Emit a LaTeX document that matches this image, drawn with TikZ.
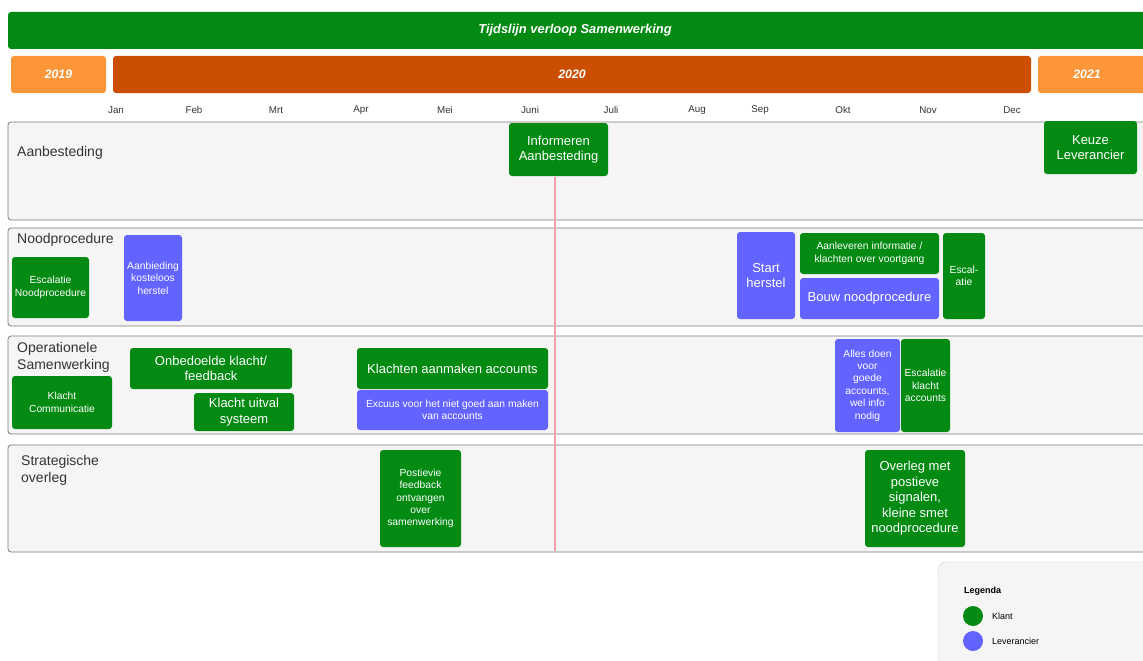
\documentclass[tikz,border=0pt]{standalone}
\usepackage{fontspec}
\setmainfont{Liberation Sans}
\definecolor{klantgroen}{HTML}{038A12}
\definecolor{levpaars}{HTML}{6363FF}
\definecolor{jaarlicht}{HTML}{FD9638}
\definecolor{jaardonker}{HTML}{CC4E02}
\definecolor{baanvul}{HTML}{F5F5F5}
\definecolor{baanrand}{HTML}{7A7A7A}
\definecolor{lijnrood}{HTML}{F0A0A8}
\definecolor{labeltekst}{HTML}{333333}

\begin{document}
\begin{tikzpicture}[x=1pt, y=-1pt,
	blok/.style={rounded corners=3pt, text=white, align=center, inner sep=0pt},
	klant/.style={blok, fill=klantgroen},
	lev/.style={blok, fill=levpaars},
	groot/.style={font=\fontsize{13}{15.5}\selectfont},
	klein/.style={font=\fontsize{10.3}{12.4}\selectfont},
	baan/.style={draw=baanrand, fill=baanvul, rounded corners=3pt, line width=0.8pt},
	baanlabel/.style={anchor=west, align=left, text=labeltekst, inner sep=0pt, font=\fontsize{14}{17}\selectfont},
	maand/.style={text=labeltekst, font=\fontsize{9.8}{11}\selectfont},
	jaar/.style={rounded corners=3pt, draw=none, text=white, font=\fontsize{12.3}{14}\bfseries\itshape\selectfont}]
			\useasboundingbox (0,0) rectangle (1143,661);
			
			% kop en jaren
			\draw[fill=klantgroen, draw=none, rounded corners=3pt] (8,12) rectangle (1160,49);
			\node[text=white, font=\fontsize{12.9}{14}\bfseries\itshape\selectfont] (titel) at (575,30) {Tijdslijn verloop Samenwerking};
			\draw[jaar, fill=jaarlicht] (11,56) rectangle (106,93) node[pos=.5] (j2019) {2019};
			\draw[jaar, fill=jaardonker] (113,56) rectangle (1031,93) node[pos=.5] (j2020) {2020};
			\draw[jaar, fill=jaarlicht] (1038,56) rectangle (1160,93);
			\node[text=white, font=\fontsize{12.3}{14}\bfseries\itshape\selectfont] (j2021) at (1087,74.5) {2021};
			
			% maanden
			\node[maand] (jan) at (116,110) {Jan};
			\node[maand] (feb) at (194,110) {Feb};
			\node[maand] (mrt) at (276,110) {Mrt};
			\node[maand] (apr) at (361,110) {Apr};
			\node[maand] (mei) at (445,110) {Mei};
			\node[maand] (jun) at (530,110) {Juni};
			\node[maand] (jul) at (611,110) {Juli};
			\node[maand] (aug) at (697,110) {Aug};
			\node[maand] (sep) at (760,110) {Sep};
			\node[maand] (okt) at (843,110) {Okt};
			\node[maand] (nov) at (928,110) {Nov};
			\node[maand] (dec) at (1012,110) {Dec};
			
			% banen
			\draw[baan] (8,122) rectangle (1160,220);
			\draw[baan] (8,228) rectangle (1160,326);
			\draw[baan] (8,336) rectangle (1160,434);
			\draw[baan] (8,445) rectangle (1160,552);
			\node[baanlabel] (aanbest) at (17,153) {Aanbesteding};
			\node[baanlabel] (nood) at (17,240) {Noodprocedure};
			\node[baanlabel] (operat) at (17,357) {Operationele\\Samenwerking};
			\node[baanlabel] (strat) at (21,470) {Strategische\\overleg};
			
			% nu-lijn
			\coordinate (nuboven) at (555,177);
			\coordinate (nuonder) at (555,551);
			\draw[lijnrood, line width=1.2pt] (nuboven) -- (nuonder);
			
			% aanbesteding
			\node[klant, groot, minimum width=99pt, minimum height=53pt] (inform) at (558.5,149.5) {Informeren\\Aanbesteding};
			\node[klant, groot, minimum width=93pt, minimum height=53pt] (keuze) at (1090.5,147.5) {Keuze\\Leverancier};
			
			% noodprocedure
			\node[klant, klein, minimum width=77pt, minimum height=61pt] (escnood) at (50.5,287.5) {Escalatie\\Noodprocedure};
			\node[lev, klein, minimum width=58pt, minimum height=86pt] (aanbied) at (153,278) {Aanbieding\\kosteloos\\herstel};
			\node[lev, groot, minimum width=58pt, minimum height=87pt] (start) at (766,275.5) {Start\\herstel};
			\node[klant, klein, minimum width=139pt, minimum height=41pt] (aanlev) at (869.5,253.5) {Aanleveren informatie /\\klachten over voortgang};
			\node[lev, groot, minimum width=139pt, minimum height=41pt] (bouw) at (869.5,298.5) {Bouw noodprocedure};
			\node[klant, klein, minimum width=42pt, minimum height=86pt] (escal) at (964,276) {Escal-\\atie};
			
			% operationele samenwerking
			\node[klant, klein, minimum width=100pt, minimum height=53pt] (klcomm) at (62,402.5) {Klacht\\Communicatie};
			\node[klant, groot, minimum width=162pt, minimum height=41pt] (onbedoeld) at (211,368.5) {Onbedoelde klacht/\\feedback};
			\node[klant, groot, minimum width=100pt, minimum height=38pt] (uitval) at (244,412) {Klacht uitval\\systeem};
			\node[klant, groot, minimum width=191pt, minimum height=41pt] (aanmaak) at (452.5,368.5) {Klachten aanmaken accounts};
			\node[lev, klein, minimum width=191pt, minimum height=40pt] (excuus) at (452.5,410) {Excuus voor het niet goed aan maken\\van accounts};
			\node[lev, klein, minimum width=65pt, minimum height=93pt] (allesdoen) at (867.5,385.5) {Alles doen\\voor\\goede\\accounts,\\wel info\\nodig};
			\node[klant, klein, minimum width=49pt, minimum height=93pt] (escklacht) at (925.5,385.5) {Escalatie\\klacht\\accounts};
			
			% strategische overleg
			\node[klant, klein, minimum width=81pt, minimum height=97pt] (postief) at (420.5,498.5) {Postievie\\feedback\\ontvangen\\over\\samenwerking};
			\node[klant, groot, minimum width=100pt, minimum height=97pt] (overleg) at (915,498.5) {Overleg met\\postieve\\signalen,\\kleine smet\\noodprocedure};
			
			% legenda
			\draw[fill=baanvul, draw=gray!35, rounded corners=8pt] (938,562) rectangle (1170,690);
			\node[anchor=west, inner sep=0pt, font=\fontsize{9}{11}\bfseries\selectfont] (legenda) at (964,591) {Legenda};
			\node[circle, fill=klantgroen, minimum size=20pt, inner sep=0pt] (bolklant) at (973,616) {};
			\node[circle, fill=levpaars, minimum size=20pt, inner sep=0pt] (bollev) at (973,641) {};
			\node[anchor=west, inner sep=0pt, font=\fontsize{9}{11}\selectfont] (klant) at (992,616) {Klant};
			\node[anchor=west, inner sep=0pt, font=\fontsize{9}{11}\selectfont] (leverancier) at (992,641) {Leverancier};
			
		\end{tikzpicture}
\end{document}
